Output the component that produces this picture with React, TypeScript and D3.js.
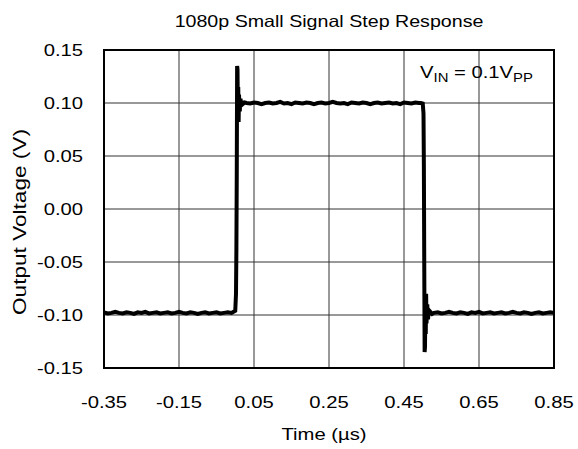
import React from "react";
import * as d3 from "d3";

const xTicks = [-0.35, -0.15, 0.05, 0.25, 0.45, 0.65, 0.85];
const yTicks = [-0.15, -0.1, -0.05, 0.0, 0.05, 0.1, 0.15];

const times = [
  -0.35, -0.34, -0.33, -0.32, -0.31, -0.3, -0.29, -0.28, -0.27, -0.26,
  -0.25, -0.24, -0.23, -0.22, -0.21, -0.2, -0.19, -0.18, -0.17, -0.16,
  -0.15, -0.14, -0.13, -0.12, -0.11, -0.1, -0.09, -0.08, -0.07, -0.06,
  -0.05, -0.04, -0.03, -0.02, -0.01,
  0.0, 0.002, 0.003, 0.004, 0.005, 0.006, 0.007, 0.008, 0.009, 0.01,
  0.012, 0.014, 0.016, 0.018, 0.02, 0.025,
  0.03, 0.04, 0.05, 0.06, 0.07, 0.08, 0.09, 0.1, 0.11, 0.12,
  0.13, 0.14, 0.15, 0.16, 0.17, 0.18, 0.19, 0.2, 0.21, 0.22,
  0.23, 0.24, 0.25, 0.26, 0.27, 0.28, 0.29, 0.3, 0.31, 0.32,
  0.33, 0.34, 0.35, 0.36, 0.37, 0.38, 0.39, 0.4, 0.41, 0.42,
  0.43, 0.44, 0.45, 0.46, 0.47, 0.48, 0.49,
  0.495, 0.5, 0.502, 0.503, 0.504, 0.505, 0.506, 0.507, 0.508, 0.509,
  0.51, 0.512, 0.514, 0.516, 0.518, 0.52, 0.525,
  0.53, 0.54, 0.55, 0.56, 0.57, 0.58, 0.59, 0.6, 0.61, 0.62,
  0.63, 0.64, 0.65, 0.66, 0.67, 0.68, 0.69, 0.7, 0.71, 0.72,
  0.73, 0.74, 0.75, 0.76, 0.77, 0.78, 0.79, 0.8, 0.81, 0.82,
  0.83, 0.84, 0.85,
];
const volts = [
  -0.0975, -0.0985, -0.098, -0.097, -0.098, -0.0985, -0.0975, -0.098, -0.099, -0.0975,
  -0.098, -0.097, -0.0985, -0.098, -0.0975, -0.0985, -0.098, -0.0975, -0.0985, -0.098,
  -0.097, -0.098, -0.0985, -0.0975, -0.098, -0.099, -0.098, -0.0975, -0.0985, -0.098,
  -0.0975, -0.0985, -0.098, -0.0975, -0.098,
  -0.096, -0.08, -0.04, 0.03, 0.135, 0.132, 0.09, 0.115, 0.082, 0.108,
  0.092, 0.104, 0.097, 0.102, 0.099, 0.1005,
  0.1, 0.0995, 0.1005, 0.1, 0.099, 0.1, 0.1005, 0.0995, 0.1, 0.101,
  0.0995, 0.1, 0.099, 0.1005, 0.1, 0.0995, 0.1005, 0.1, 0.099, 0.1,
  0.1005, 0.0995, 0.1, 0.101, 0.1, 0.0995, 0.1, 0.099, 0.1005, 0.1,
  0.0995, 0.1005, 0.1, 0.099, 0.1, 0.1005, 0.0995, 0.1, 0.1005, 0.0995,
  0.1, 0.099, 0.1005, 0.1, 0.0995, 0.1005, 0.1,
  0.1, 0.0995, 0.09, 0.04, -0.05, -0.135, -0.13, -0.085, -0.118, -0.08,
  -0.108, -0.09, -0.104, -0.095, -0.1, -0.097, -0.099,
  -0.098, -0.0975, -0.0985, -0.098, -0.097, -0.098, -0.0985, -0.0975, -0.098, -0.099,
  -0.0975, -0.098, -0.097, -0.0985, -0.098, -0.0975, -0.0985, -0.098, -0.0975, -0.0985,
  -0.098, -0.097, -0.098, -0.0985, -0.0975, -0.098, -0.099, -0.098, -0.0975, -0.0985,
  -0.098, -0.0975, -0.098,
];

const W = 578;
const H = 449;
const M = { left: 104, right: 554, top: 50, bottom: 368 };
const FONT = "'Liberation Sans', Arial, sans-serif";
const SX = 1.19;

function T({ x, y, anchor = "start", size = 17, children }: any) {
  return (
    <g transform={`translate(${x},${y}) scale(${SX},1)`}>
      <text x={0} y={0} textAnchor={anchor} fontSize={size} fill="#000">
        {children}
      </text>
    </g>
  );
}

export default function App() {
  const x = d3.scaleLinear().domain([-0.35, 0.85]).range([M.left, M.right]);
  const y = d3.scaleLinear().domain([-0.15, 0.15]).range([M.bottom, M.top]);
  const pts: [number, number][] = times.map((t, i) => [t, volts[i]]);
  const line = d3
    .line<[number, number]>()
    .x((d) => x(d[0]))
    .y((d) => y(d[1]));

  return (
    <svg
      width={W}
      height={H}
      style={{ position: "absolute", left: 0, top: 0, background: "#fff" }}
      fontFamily={FONT}
    >
      <rect x={0} y={0} width={W} height={H} fill="#fff" />
      {xTicks.map((t) => (
        <line key={"gx" + t} x1={x(t)} x2={x(t)} y1={M.top} y2={M.bottom} stroke="#333" strokeWidth={1} />
      ))}
      {yTicks.map((t) => (
        <line key={"gy" + t} x1={M.left} x2={M.right} y1={y(t)} y2={y(t)} stroke="#333" strokeWidth={1} />
      ))}
      <rect
        x={M.left}
        y={M.top}
        width={M.right - M.left}
        height={M.bottom - M.top}
        fill="none"
        stroke="#000"
        strokeWidth={2}
      />
      <path d={line(pts) || ""} fill="none" stroke="#000" strokeWidth={4} strokeLinejoin="miter" />
      {xTicks.map((t) => (
        <T key={"tx" + t} x={x(t)} y={408} anchor="middle">
          {t.toFixed(2)}
        </T>
      ))}
      {yTicks.map((t) => (
        <T key={"ty" + t} x={83} y={y(t) + 6} anchor="end">
          {t.toFixed(2)}
        </T>
      ))}
      <T x={324} y={440} anchor="middle">
        Time (µs)
      </T>
      <g transform={`translate(26, 222) rotate(-90) scale(1.19,1)`}>
        <text x={0} y={0} textAnchor="middle" fontSize={19} fill="#000">
          Output Voltage (V)
        </text>
      </g>
      <T x={329} y={27} anchor="middle" size={16.5}>
        1080p Small Signal Step Response
      </T>
      <T x={420} y={78}>
        V<tspan fontSize={12.5} dy={4}>IN</tspan>
        <tspan dy={-4}> = 0.1V</tspan>
        <tspan fontSize={12.5} dy={4}>PP</tspan>
      </T>
    </svg>
  );
}
